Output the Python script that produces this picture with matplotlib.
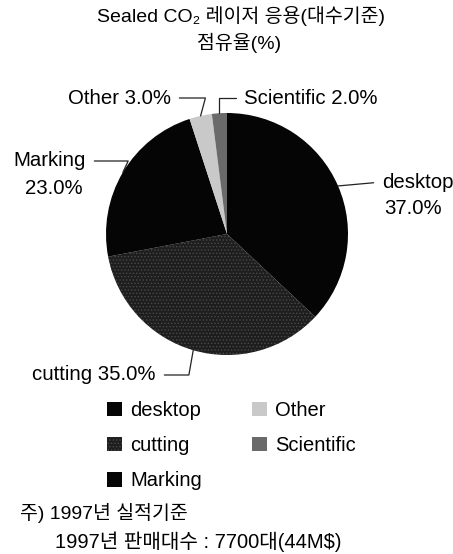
import matplotlib
matplotlib.use('Agg')
import matplotlib.pyplot as plt
import numpy as np

plt.rcParams['font.family'] = ['Liberation Sans', 'Noto Sans CJK KR', 'DejaVu Sans']
plt.rcParams['hatch.color'] = '#4a4a4a'
plt.rcParams['hatch.linewidth'] = 0.6

# data
categories = ['desktop', 'cutting', 'Marking', 'Other', 'Scientific']
shares = [37.0, 35.0, 23.0, 3.0, 2.0]
colors = ['#050505', '#1e1e1e', '#050505', '#c9c9c9', '#6a6a6a']
title_lines = ['Sealed CO\u2082 레이저 응용(대수기준)', '점유율(%)']
notes = ['주) 1997년 실적기준', '1997년 판매대수 : 7700대(44M$)']

W, H = 453, 554
fig = plt.figure(figsize=(W / 100, H / 100), dpi=100)


def fp(x, y):
    # pixel position (from top-left) -> figure fraction
    return x / W, 1 - y / H


# pie axes: centre ~ (227, 234), radius ~ 121 px
cx, cy, r = 227, 234, 121
ax = fig.add_axes([(cx - r) / W, 1 - (cy + r) / H, 2 * r / W, 2 * r / H])
wedges, _ = ax.pie(shares, colors=colors, startangle=90, counterclock=False,
                   wedgeprops=dict(linewidth=0))
wedges[1].set_hatch('.....')
ax.set_xlim(-1, 1)
ax.set_ylim(-1, 1)

FS = 14.7
# label placement: (text pos px, ha, relpos, connection)
label_cfg = {
    'desktop': ((382, 182), 'left', (0, 0.5), 'arc3'),
    'cutting': ((156, 375), 'right', (1, 0.5), 'angle,angleA=0,angleB=80,rad=0'),
    'Marking': ((86, 161), 'right', (1, 0.5), 'angle,angleA=0,angleB=65,rad=0'),
    'Other': ((171, 98), 'right', (1, 0.5), 'angle,angleA=0,angleB=75,rad=0'),
    'Scientific': ((244, 98), 'left', (0, 0.5), 'angle,angleA=0,angleB=90,rad=0'),
}
second_line = {'desktop': (384, 209, 'left'), 'Marking': (83, 189, 'right')}

for w, cat, val in zip(wedges, categories, shares):
    mid = np.deg2rad((w.theta1 + w.theta2) / 2)
    edge = (np.cos(mid), np.sin(mid))
    (tx, ty), ha, relpos, conn = label_cfg[cat]
    pct = f'{val:.1f}%'
    txt = cat if cat in second_line else f'{cat} {pct}'
    ax.annotate(txt, xy=edge, xycoords='data', xytext=fp(tx, ty),
                textcoords='figure fraction', ha=ha, va='center', fontsize=FS,
                annotation_clip=False,
                arrowprops=dict(arrowstyle='-', color='#222222', lw=0.9,
                                relpos=relpos, connectionstyle=conn,
                                shrinkA=4, shrinkB=0))
    if cat in second_line:
        sx, sy, sha = second_line[cat]
        fig.text(*fp(sx, sy), pct, ha=sha, va='center', fontsize=FS)

# title
fig.text(*fp(241, 16), title_lines[0], ha='center', va='center', fontsize=14)
fig.text(*fp(239, 43), title_lines[1], ha='center', va='center', fontsize=14)

# legend
fig.legend(wedges, categories, ncol=2, loc='upper left',
           bbox_to_anchor=fp(107, 401), frameon=False, fontsize=14.5,
           handlelength=0.75, handleheight=0.75, handletextpad=0.4,
           labelspacing=0.8, columnspacing=2.5, borderaxespad=0, borderpad=0)

# notes
fig.text(*fp(20, 513), notes[0], ha='left', va='center', fontsize=14)
fig.text(*fp(55, 542), notes[1], ha='left', va='center', fontsize=14.5)

fig.savefig('out.png', dpi=100)
